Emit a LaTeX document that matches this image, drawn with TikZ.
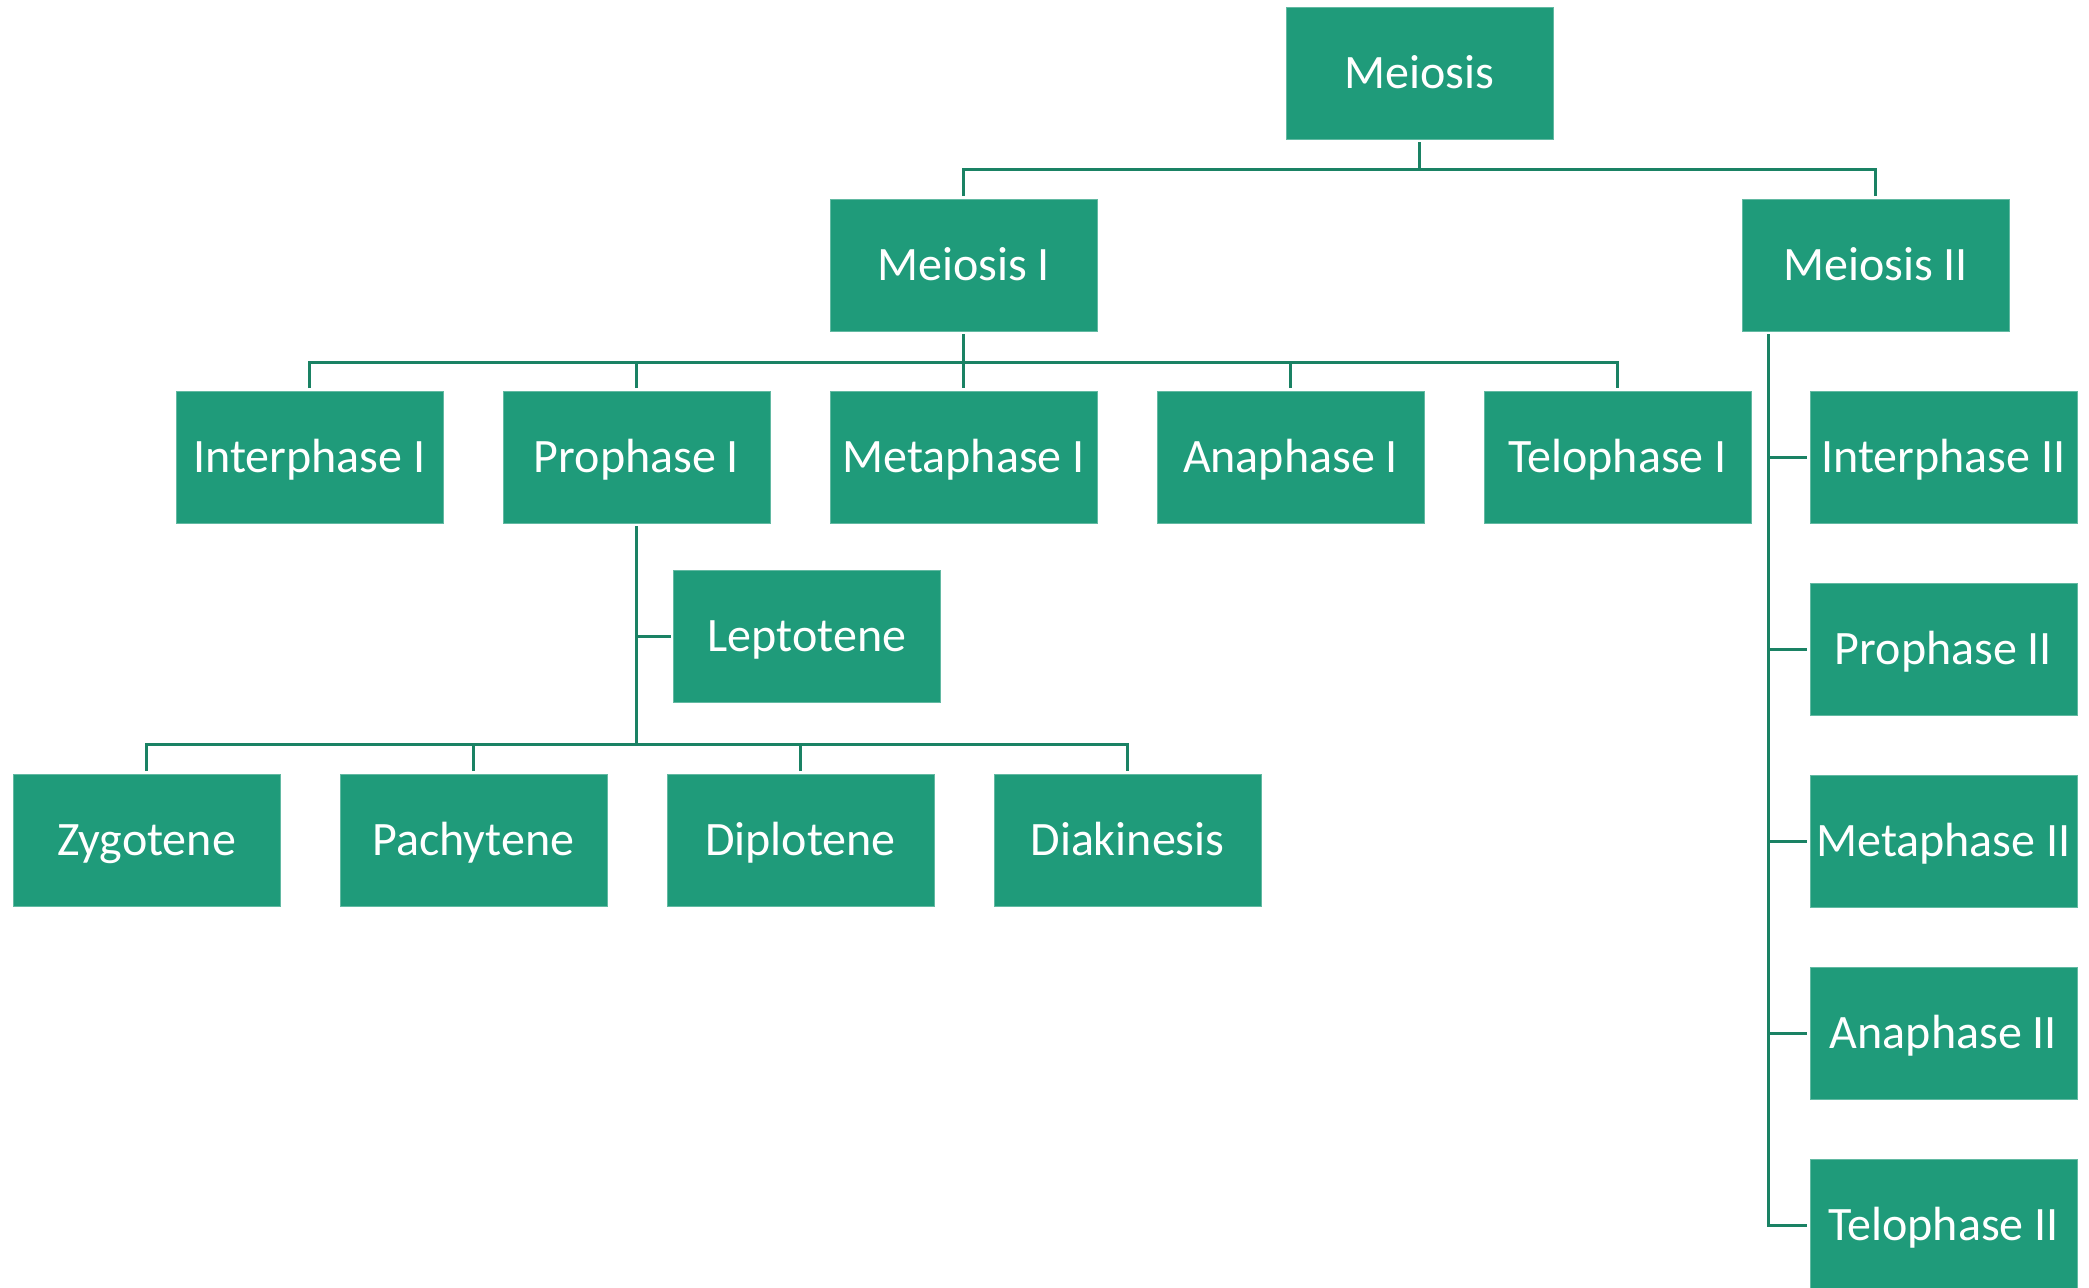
\documentclass[tikz,border=0pt]{standalone}
\usepackage{fontspec}
\setmainfont{Carlito}
\usetikzlibrary{calc}
\definecolor{boxfill}{RGB}{31,155,122}
\definecolor{linkcol}{RGB}{26,130,100}
\tikzset{
  stage/.style={rectangle, fill=boxfill, draw=boxfill!70!white, line width=0.4pt,
    minimum width=133.5pt, minimum height=66pt, inner sep=0pt, outer sep=1.5pt,
    text=white, font=\fontsize{24}{28}\selectfont,
    text height=15.4pt, text depth=0pt},
  link/.style={draw=linkcol, line width=1.5pt}
}
\begin{document}
\begin{tikzpicture}[x=0.5pt, y=-0.5pt]
  \useasboundingbox (0,0) rectangle (2089,1287);
  \clip (0,0) rectangle (2089,1287);

  % levels
  \node[stage] (mei)  at (1419.5,73)  {Meiosis};
  \node[stage] (meiA) at (963.5,265)  {Meiosis I};
  \node[stage] (meiB) at (1875.5,265) {Meiosis II};

  % phases of meiosis I
  \node[stage] (intA) at (309.5,457)  {Interphase I};
  \node[stage] (proA) at (636.5,457)  {Prophase I};
  \node[stage] (metA) at (963.5,457)  {Metaphase I};
  \node[stage] (anaA) at (1290.5,457) {Anaphase I};
  \node[stage] (telA) at (1617.5,457) {Telophase I};

  % substages of prophase I
  \node[stage] (lep) at (807,636)    {Leptotene};
  \node[stage] (zyg) at (146.5,840)  {Zygotene};
  \node[stage] (pac) at (473.5,840)  {Pachytene};
  \node[stage] (dip) at (800.5,840)  {Diplotene};
  \node[stage] (dia) at (1127.5,840) {Diakinesis};

  % phases of meiosis II
  \node[stage] (intB) at (1943.5,457)  {Interphase II};
  \node[stage] (proB) at (1943.5,649)  {Prophase II};
  \node[stage] (metB) at (1943.5,841)  {Metaphase II};
  \node[stage] (anaB) at (1943.5,1033) {Anaphase II};
  \node[stage] (telB) at (1943.5,1225) {Telophase II};

  % junctions
  \coordinate (j0) at (1419.5,169);
  \coordinate (j1) at (963.5,362);
  \coordinate (j2) at (636.5,744);
  \coordinate (rail) at (1768,0);

  % Meiosis -> Meiosis I / II
  \draw[link] (mei.south) -- (j0);
  \draw[link] (meiA.north) |- (j0) -| (meiB.north);

  % Meiosis I -> phases
  \draw[link] (meiA.south) -- (metA.north);
  \draw[link] (intA.north) |- (j1) -| (telA.north);
  \foreach \n in {proA, anaA} \draw[link] (\n.north) -- (\n.north |- j1);

  % Prophase I -> substages
  \draw[link] (proA.south) -- (j2);
  \draw[link] (lep.west) -- (lep.west -| j2);
  \draw[link] (zyg.north) |- (j2) -| (dia.north);
  \foreach \n in {pac, dip} \draw[link] (\n.north) -- (\n.north |- j2);

  % Meiosis II -> phases (side rail)
  \draw[link] (meiB.south -| rail) -- (telB.west -| rail) -- (telB.west);
  \foreach \n in {intB, proB, metB, anaB} \draw[link] (\n.west -| rail) -- (\n.west);
\end{tikzpicture}
\end{document}
